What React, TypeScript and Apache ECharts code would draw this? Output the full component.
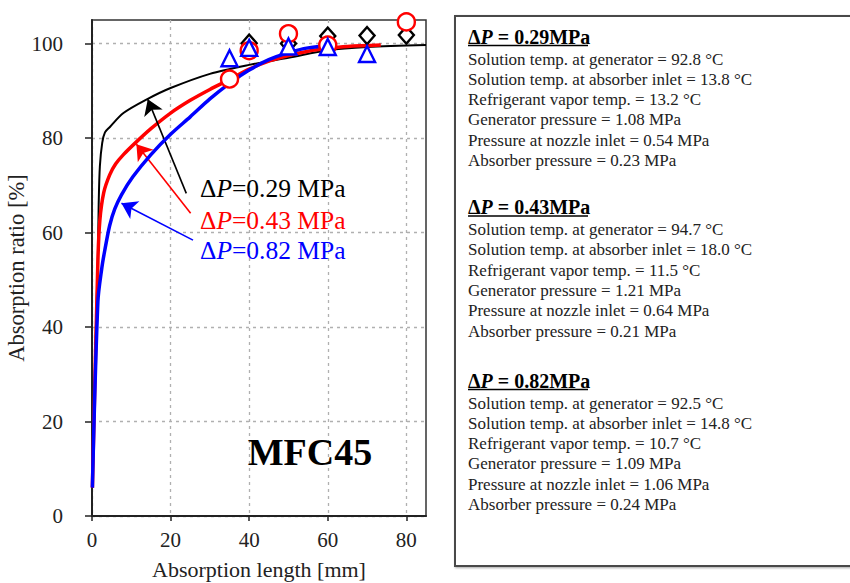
import React, { useEffect, useRef } from "react";
import * as echarts from "echarts";

// ---- Axis ticks ----
const xTicks = [0, 20, 40, 60, 80];
const yTicks = [0, 20, 40, 60, 80, 100];

// ---- Calculated curves ----
const curve029X = [0.1, 1.0, 1.5, 1.7, 2.0, 2.6, 3.3, 4.5, 8, 14.2, 20, 30, 40, 50, 60, 70, 85];
const curve029Y = [6, 40, 55, 66, 74, 79, 81.2, 82.3, 85.3, 88.3, 90.6, 93.6, 95.5, 97.0, 98.6, 99.3, 99.7];

const curve043X = [0.1, 1.5, 2.0, 3.0, 4.5, 6, 8, 11.3, 15, 20, 25, 30, 35, 40, 45, 50, 55, 60, 65, 73.5];
const curve043Y = [6, 54, 62.6, 68.5, 72.2, 74.5, 76.5, 79.2, 82, 85.3, 88, 90.3, 92.4, 94.6, 96.3, 97.5, 98.4, 99.0, 99.4, 99.7];

const curve082X = [0.1, 1.5, 2.5, 3.2, 4.5, 5.8, 7.5, 10.4, 15, 20, 25, 30, 35, 40, 45, 50, 55, 62];
const curve082Y = [6, 45.4, 52.5, 56, 61.5, 65, 68, 71.8, 76.5, 80.8, 84.5, 88.3, 91.6, 94.4, 96.6, 98.1, 99.1, 99.7];

// ---- Experimental points ----
const exp029X = [40, 50, 60, 70, 80];
const exp029Y = [100.1, 100.0, 101.6, 101.7, 101.8];
const exp043X = [35, 40, 50, 60, 80];
const exp043Y = [92.5, 98.5, 102.1, 99.7, 104.6];
const exp082X = [35, 40, 50, 60, 70];
const exp082Y = [96.9, 99.1, 99.4, 99.3, 97.8];

// ---- Annotation arrows: [fromX, fromY, toX, toY] in data units ----
const arrow029 = [24.0, 68.3, 14.2, 88.2];
const arrow043 = [25.1, 64.1, 11.3, 78.7];
const arrow082 = [25.7, 58.4, 7.5, 66.2];

// ---- Labels ----
const seriesLabels = ["0.29 MPa", "0.43 MPa", "0.82 MPa"];
const panelHeads = ["0.29MPa", "0.43MPa", "0.82MPa"];
const panel029 = [
  "Solution temp. at generator = 92.8 °C",
  "Solution temp. at absorber inlet = 13.8 °C",
  "Refrigerant vapor temp. = 13.2 °C",
  "Generator pressure = 1.08 MPa",
  "Pressure at nozzle inlet = 0.54 MPa",
  "Absorber pressure = 0.23 MPa",
];
const panel043 = [
  "Solution temp. at generator = 94.7 °C",
  "Solution temp. at absorber inlet = 18.0 °C",
  "Refrigerant vapor temp. = 11.5 °C",
  "Generator pressure = 1.21 MPa",
  "Pressure at nozzle inlet = 0.64 MPa",
  "Absorber pressure = 0.21 MPa",
];
const panel082 = [
  "Solution temp. at generator = 92.5 °C",
  "Solution temp. at absorber inlet = 14.8 °C",
  "Refrigerant vapor temp. = 10.7 °C",
  "Generator pressure = 1.09 MPa",
  "Pressure at nozzle inlet = 1.06 MPa",
  "Absorber pressure = 0.24 MPa",
];

const FONT = "Liberation Serif, serif";
const RED = "#ff0000";
const BLUE = "#0000ff";
const BLACK = "#000000";

const zip = (xs: number[], ys: number[]) => xs.map((x, i) => [x, ys[i]]);

function lineSeries(name: string, xs: number[], ys: number[], color: string, width: number, arrow: number[], z: number) {
  return {
    name,
    type: "line",
    data: zip(xs, ys),
    showSymbol: false,
    symbol: "none",
    smooth: 0.3,
    z,
    lineStyle: { color, width },
    emphasis: { disabled: true },
    markLine: {
      silent: true,
      animation: false,
      symbol: ["none", "arrow"],
      symbolSize: 15,
      label: { show: false },
      emphasis: { disabled: true },
      lineStyle: { color, width: 1.6, type: "solid" },
      itemStyle: { color },
      data: [[{ coord: [arrow[0], arrow[1]] }, { coord: [arrow[2], arrow[3]] }]],
    },
  };
}

function scatterSeries(name: string, xs: number[], ys: number[], color: string, symbol: string, size: any, z: number) {
  return {
    name,
    type: "scatter",
    data: zip(xs, ys),
    symbol,
    symbolSize: size,
    z,
    itemStyle: { color: "#ffffff", borderColor: color, borderWidth: 2.4, opacity: 1 },
    emphasis: { disabled: true },
  };
}

export default function App() {
  const ref = useRef<HTMLDivElement>(null);

  useEffect(() => {
    if (!ref.current) return;
    const chart = echarts.init(ref.current, undefined, { renderer: "svg" });

    const graphics: any[] = [];
    graphics.push({
      type: "rect",
      shape: { x: 455, y: 16, width: 420, height: 550 },
      style: { fill: "#ffffff", stroke: "#4a4a4a", lineWidth: 2, shadowBlur: 2, shadowColor: "rgba(0,0,0,0.35)", shadowOffsetX: 1, shadowOffsetY: 1 },
      z: 0,
    });
    const panels = [panel029, panel043, panel082];
    const headY = [36.5, 207, 380.5];
    panels.forEach((lines, b) => {
      const hy = headY[b];
      graphics.push({
        type: "text",
        x: 468,
        y: hy,
        style: {
          text: "{b|Δ}{i|P}{b| = " + panelHeads[b] + "}",
          verticalAlign: "middle",
          align: "left",
          rich: {
            b: { fontFamily: FONT, fontWeight: "bold", fontSize: 20, fill: "#000" },
            i: { fontFamily: FONT, fontWeight: "bold", fontStyle: "italic", fontSize: 20, fill: "#000" },
          },
        },
        z: 5,
      });
      graphics.push({
        type: "line",
        shape: { x1: 468, y1: hy + 9, x2: 588, y2: hy + 9 },
        style: { stroke: "#000", lineWidth: 1.4 },
        z: 5,
      });
      lines.forEach((t, k) => {
        graphics.push({
          type: "text",
          x: 468,
          y: hy + 22.5 + k * 20.3,
          style: { text: t, fontFamily: FONT, fontSize: 17, fill: "#222", verticalAlign: "middle", align: "left" },
          z: 5,
        });
      });
    });

    const annColors = [BLACK, RED, BLUE];
    const annY = [188, 220, 250];
    seriesLabels.forEach((lab, i) => {
      graphics.push({
        type: "text",
        x: 200,
        y: annY[i],
        style: {
          text: "{n|Δ}{p|P}{n|=" + lab + "}",
          verticalAlign: "middle",
          align: "left",
          rich: {
            n: { fontFamily: FONT, fontSize: 25.5, fill: annColors[i] },
            p: { fontFamily: FONT, fontSize: 25.5, fontStyle: "italic", fill: annColors[i] },
          },
        },
        z: 10,
      });
    });
    graphics.push({
      type: "text",
      x: 310,
      y: 452,
      style: { text: "MFC45", fontFamily: FONT, fontWeight: "bold", fontSize: 38, fill: "#000", align: "center", verticalAlign: "middle" },
      z: 10,
    });

    const option: any = {
      animation: false,
      backgroundColor: "#ffffff",
      textStyle: { fontFamily: FONT },
      grid: {
        left: 92, right: 424, top: 20, bottom: 67,
        containLabel: false,
        outerBoundsMode: "none",
        show: true, borderColor: "#333", borderWidth: 1.5, backgroundColor: "transparent",
      },
      xAxis: {
        type: "value",
        min: 0,
        max: 85,
        interval: 20,
        name: "Absorption length [mm]",
        nameLocation: "middle",
        nameGap: 42,
        nameTextStyle: { fontFamily: FONT, fontSize: 22, color: "#222" },
        axisLine: { show: true, onZero: false, lineStyle: { color: "#222", width: 2 } },
        axisTick: { show: true, inside: false, length: 5, customValues: xTicks, lineStyle: { color: "#222", width: 1.5 } },
        axisLabel: { fontFamily: FONT, fontSize: 21, color: "#222", margin: 13, customValues: xTicks },
        splitLine: { show: true, lineStyle: { color: "#b0b0b0", width: 1.3, type: [3, 4] } },
      },
      yAxis: {
        type: "value",
        min: 0,
        max: 105,
        interval: 20,
        name: "Absorption ratio [%]",
        nameLocation: "middle",
        nameGap: 58,
        nameTextStyle: { fontFamily: FONT, fontSize: 22.5, color: "#222" },
        axisLine: { show: true, onZero: false, lineStyle: { color: "#222", width: 2 } },
        axisTick: { show: true, inside: false, length: 7, customValues: yTicks, lineStyle: { color: "#222", width: 1.5 } },
        axisLabel: { fontFamily: FONT, fontSize: 21, color: "#222", margin: 29, customValues: yTicks },
        splitLine: { show: true, lineStyle: { color: "#b0b0b0", width: 1.3, type: [3, 4] } },
      },
      series: [
        lineSeries("ΔP=" + seriesLabels[0], curve029X, curve029Y, BLACK, 2, arrow029, 3),
        lineSeries("ΔP=" + seriesLabels[1], curve043X, curve043Y, RED, 3.5, arrow043, 4),
        lineSeries("ΔP=" + seriesLabels[2], curve082X, curve082Y, BLUE, 3.5, arrow082, 5),
        scatterSeries("exp " + seriesLabels[0], exp029X, exp029Y, BLACK, "diamond", [15, 17], 6),
        scatterSeries("exp " + seriesLabels[1], exp043X, exp043Y, RED, "circle", 17, 7),
        scatterSeries("exp " + seriesLabels[2], exp082X, exp082Y, BLUE, "triangle", [16, 16], 8),
      ],
      graphic: graphics,
    };

    chart.setOption(option);
    return () => chart.dispose();
  }, []);

  return (
    <div
      ref={ref}
      style={{ position: "fixed", left: 0, top: 0, width: 850, height: 583, background: "#fff" }}
    />
  );
}
